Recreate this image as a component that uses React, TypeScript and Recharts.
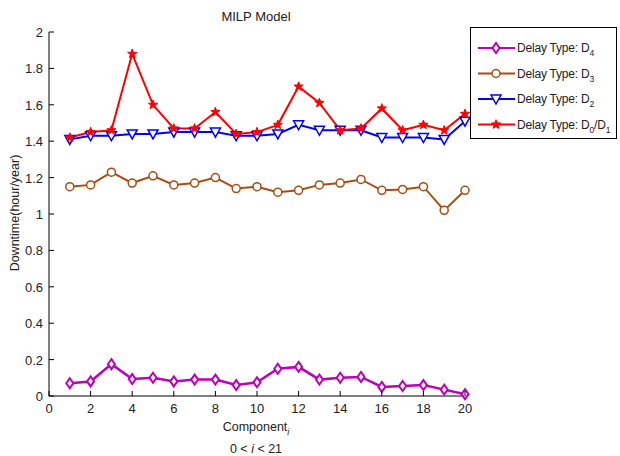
import React from "react";
import { LineChart, Line, XAxis, YAxis } from "recharts";

// values, component 1..20
const components = [1, 2, 3, 4, 5, 6, 7, 8, 9, 10, 11, 12, 13, 14, 15, 16, 17, 18, 19, 20];
const delayD4 = [0.07, 0.08, 0.175, 0.093, 0.1, 0.08, 0.09, 0.09, 0.06, 0.075, 0.15, 0.16, 0.09, 0.1, 0.105, 0.05, 0.055, 0.06, 0.035, 0.01];
const delayD3 = [1.15, 1.16, 1.23, 1.17, 1.21, 1.16, 1.17, 1.2, 1.14, 1.15, 1.12, 1.13, 1.16, 1.17, 1.19, 1.13, 1.135, 1.15, 1.02, 1.13];
const delayD2 = [1.41, 1.43, 1.43, 1.44, 1.44, 1.45, 1.45, 1.45, 1.43, 1.43, 1.44, 1.49, 1.46, 1.46, 1.46, 1.42, 1.42, 1.42, 1.41, 1.51];
const delayD01 = [1.42, 1.45, 1.46, 1.88, 1.6, 1.47, 1.47, 1.56, 1.44, 1.45, 1.49, 1.7, 1.61, 1.46, 1.47, 1.58, 1.46, 1.49, 1.46, 1.55];

const xTicks = [0, 2, 4, 6, 8, 10, 12, 14, 16, 18, 20];
const yTicks = [0, 0.2, 0.4, 0.6, 0.8, 1, 1.2, 1.4, 1.6, 1.8, 2];

const data = components.map((c, i) => ({
  comp: c,
  d4: delayD4[i],
  d3: delayD3[i],
  d2: delayD2[i],
  d01: delayD01[i],
}));

const FONT = "'Liberation Sans', Arial, sans-serif";
const TICK = 5;
const MAGENTA = "#bb00bb";
const BROWN = "#a84c12";
const BLUE = "#0000ff";
const RED = "#ff0000";

// MATLAB style inward ticks
function BottomTick(props: any) {
  const { x, y, payload } = props;
  return (
    <g>
      <line x1={x} y1={y} x2={x} y2={y - TICK} stroke="#000" />
      <text x={x} y={y + 17} textAnchor="middle" fontSize={13} fill="#222" fontFamily={FONT}>
        {payload.value}
      </text>
    </g>
  );
}

function TopTick(props: any) {
  const { x, y } = props;
  return <line x1={x} y1={y} x2={x} y2={y + TICK} stroke="#000" />;
}

function LeftTick(props: any) {
  const { x, y, payload } = props;
  return (
    <g>
      <line x1={x} y1={y} x2={x + TICK} y2={y} stroke="#000" />
      <text x={x - 6} y={y + 5} textAnchor="end" fontSize={13} fill="#222" fontFamily={FONT}>
        {payload.value}
      </text>
    </g>
  );
}

function RightTick(props: any) {
  const { x, y } = props;
  return <line x1={x} y1={y} x2={x - TICK} y2={y} stroke="#000" />;
}

function diamond(cx: number, cy: number, key?: any) {
  return (
    <polygon key={key} points={`${cx},${cy - 5} ${cx + 3.5},${cy} ${cx},${cy + 5} ${cx - 3.5},${cy}`}
      fill="#fff" stroke={MAGENTA} strokeWidth={2} />
  );
}
function circle(cx: number, cy: number, key?: any) {
  return <circle key={key} cx={cx} cy={cy} r={4} fill="#fff" stroke={BROWN} strokeWidth={1.5} />;
}
function triangle(cx: number, cy: number, key?: any) {
  return (
    <polygon key={key} points={`${cx - 5},${cy - 4} ${cx + 5},${cy - 4} ${cx},${cy + 5}`}
      fill="#fff" stroke={BLUE} strokeWidth={1.5} />
  );
}
function star(cx: number, cy: number, key?: any) {
  const pts: string[] = [];
  for (let k = 0; k < 10; k++) {
    const r = k % 2 === 0 ? 4.8 : 2;
    const a = -Math.PI / 2 + (k * Math.PI) / 5;
    pts.push(`${cx + r * Math.cos(a)},${cy + r * Math.sin(a)}`);
  }
  return <polygon key={key} points={pts.join(" ")} fill={RED} stroke={RED} strokeWidth={1} />;
}

const dotOf = (fn: (cx: number, cy: number, key?: any) => React.ReactElement) => (p: any) =>
  fn(p.cx, p.cy, p.key ?? `${p.index}`);

const legendRows = [
  { color: MAGENTA, marker: diamond, sub: ["4"] },
  { color: BROWN, marker: circle, sub: ["3"] },
  { color: BLUE, marker: triangle, sub: ["2"] },
  { color: RED, marker: star, sub: ["0", "1"] },
];

const Overlay: React.FC = () => (
  <svg width={620} height={456} style={{ position: "absolute", left: 0, top: 0, pointerEvents: "none" }}>
    <text x={256} y={21} textAnchor="middle" fontSize={13} fontFamily={FONT} fill="#222">MILP Model</text>
    <text x={256} y={431} textAnchor="middle" fontSize={12.5} fontFamily={FONT} fill="#222">
      Component<tspan fontSize={9} dy={4} fontStyle="italic">i</tspan>
    </text>
    <text x={256} y={453} textAnchor="middle" fontSize={12.5} fontFamily={FONT} fill="#222">
      0 &lt; <tspan fontStyle="italic">i</tspan> &lt; 21
    </text>
    <text x={0} y={0} transform="translate(19,213) rotate(-90)" textAnchor="middle" fontSize={12.5}
      fontFamily={FONT} fill="#222">Downtime(hour/year)</text>

    <rect x={470.5} y={27.5} width={146} height={111} fill="#fff" stroke="#000" />
    {legendRows.map((row, i) => {
      const cy = 48 + i * 25.5;
      return (
        <g key={i}>
          <line x1={478} y1={cy} x2={515} y2={cy} stroke={row.color} strokeWidth={2} />
          {row.marker(496, cy)}
          <text x={517} y={cy + 4} fontSize={12} fontFamily={FONT} fill="#222" letterSpacing={-0.2}>
            Delay Type: D<tspan fontSize={8.5} dy={4}>{row.sub[0]}</tspan>
            {row.sub.length > 1 ? (
              <>
                <tspan dy={-4}>/D</tspan>
                <tspan fontSize={8.5} dy={4}>{row.sub[1]}</tspan>
              </>
            ) : null}
          </text>
        </g>
      );
    })}
  </svg>
);

const App: React.FC = () => (
  <div style={{ position: "absolute", left: 0, top: 0, width: 620, height: 456, background: "#fff" }}>
    <LineChart width={620} height={456} data={data} margin={{ top: 32, right: 155, bottom: 0, left: 0 }}>
      <XAxis dataKey="comp" type="number" domain={[0, 20]} ticks={xTicks} height={60}
        axisLine={{ stroke: "#000" }} tickLine={false} tickSize={0} tickMargin={0} tick={BottomTick} />
      <XAxis xAxisId="top" orientation="top" dataKey="comp" type="number" domain={[0, 20]} ticks={xTicks}
        height={0} axisLine={{ stroke: "#000" }} tickLine={false} tickSize={0} tickMargin={0} tick={TopTick} />
      <YAxis type="number" domain={[0, 2]} ticks={yTicks} width={49}
        axisLine={{ stroke: "#000" }} tickLine={false} tickSize={0} tickMargin={0} tick={LeftTick} />
      <YAxis yAxisId="right" orientation="right" type="number" domain={[0, 2]} ticks={yTicks} width={0}
        axisLine={{ stroke: "#000" }} tickLine={false} tickSize={0} tickMargin={0} tick={RightTick} />
      <Line dataKey="d4" stroke={MAGENTA} strokeWidth={2.5} dot={dotOf(diamond)} isAnimationActive={false} />
      <Line dataKey="d3" stroke={BROWN} strokeWidth={2} dot={dotOf(circle)} isAnimationActive={false} />
      <Line dataKey="d2" stroke={BLUE} strokeWidth={2} dot={dotOf(triangle)} isAnimationActive={false} />
      <Line dataKey="d01" stroke={RED} strokeWidth={2} dot={dotOf(star)} isAnimationActive={false} />
    </LineChart>
    <Overlay />
  </div>
);

export default App;
